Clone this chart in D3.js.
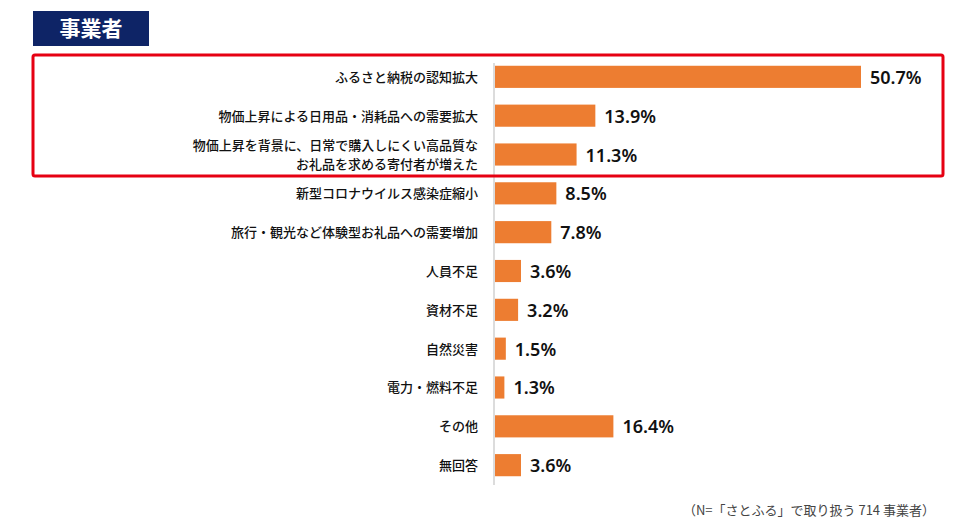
<!DOCTYPE html><html><head><meta charset="utf-8"><script src="https://cdn.jsdelivr.net/npm/d3@7"></script>
<style>body{margin:0;background:#fff}text{font-family:"Noto Sans CJK JP",sans-serif}</style></head><body><svg id="c" width="980" height="526"></svg>
<script>
const categories=[["ふるさと納税の認知拡大"],["物価上昇による日用品・消耗品への需要拡大"],["物価上昇を背景に、日常で購入しにくい高品質な","お礼品を求める寄付者が増えた"],["新型コロナウイルス感染症縮小"],["旅行・観光など体験型お礼品への需要増加"],["人員不足"],["資材不足"],["自然災害"],["電力・燃料不足"],["その他"],["無回答"]];
const values=[50.7,13.9,11.3,8.5,7.8,3.6,3.2,1.5,1.3,16.4,3.6];
const title="事業者";
const note="（N=「さとふる」で取り扱う 714 事業者）";
const svg=d3.select("#c");
const x=d3.scaleLinear().domain([0,50.7]).range([495,861]);
const y=d3.scaleBand().domain(d3.range(values.length)).range([58,484]).paddingInner(0.43).paddingOuter(0.2);
svg.append("rect").attr("x",33).attr("y",11).attr("width",116).attr("height",35).attr("fill","#0e2466");
svg.append("text").attr("x",91).attr("y",36).attr("text-anchor","middle").attr("fill","#fff").attr("font-size",21).attr("font-weight",700).text(title);
svg.append("line").attr("x1",494).attr("x2",494).attr("y1",63).attr("y2",485).attr("stroke","#d0d0d0").attr("stroke-width",1.5);
svg.selectAll(".b").data(values).join("rect").attr("x",x(0)).attr("y",(d,i)=>y(i)).attr("width",d=>x(d)-x(0)).attr("height",y.bandwidth()).attr("fill","#ed7d31");
svg.selectAll(".v").data(values).join("text").attr("x",d=>x(d)+9).attr("y",(d,i)=>y(i)+y.bandwidth()/2+7).attr("font-size",18).attr("font-weight",600).attr("fill","#111").style("font-family","'Noto Sans',sans-serif").text(d=>d.toFixed(1)+"%");
categories.forEach((c,i)=>{const cy=y(i)+y.bandwidth()/2;
c.forEach((s,j)=>svg.append("text").attr("text-anchor","end").attr("font-size",13).attr("font-weight",500).attr("fill","#111").attr("x",478).attr("y",cy+5+(j-(c.length-1)/2)*19).text(s));});
svg.append("rect").attr("x",33).attr("y",55).attr("width",910).attr("height",121).attr("fill","none").attr("stroke","#e60012").attr("stroke-width",3).attr("rx",2);
svg.append("text").attr("x",935).attr("y",515).attr("text-anchor","end").attr("font-size",13).attr("fill","#444").text(note);
</script></body></html>
